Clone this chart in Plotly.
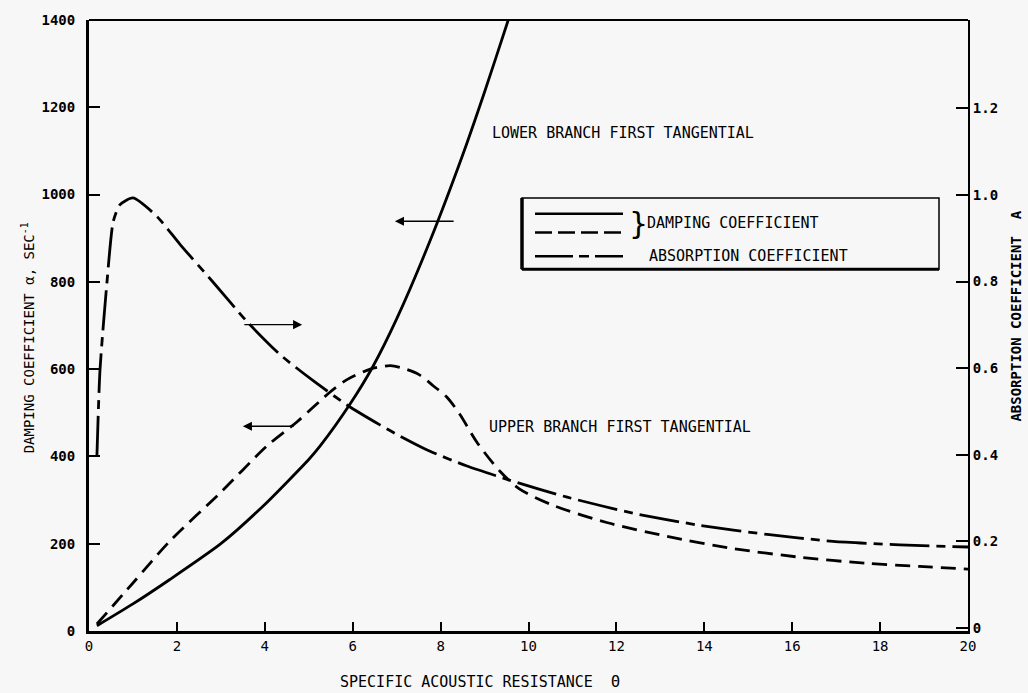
import plotly.graph_objects as go

# ---- data ----
theta_lower = [0.18, 1.0, 1.84, 3.0, 4.0, 5.0, 5.26, 5.94, 6.46, 7.0, 7.76, 8.5, 9.0, 9.53, 9.7]
alpha_lower = [12, 62, 118, 200, 290, 393, 424, 520, 606, 715, 894, 1090, 1235, 1397, 1450]

theta_upper = [0.18, 1.0, 1.84, 3.0, 4.05, 4.73, 5.48, 5.87, 6.4, 6.85, 7.08, 7.5, 7.83, 8.15, 8.44,
               8.83, 9.35, 9.8, 10.56, 11.8, 13.15, 14.65, 16.18, 17.7, 18.9, 20.0]
alpha_upper = [16, 110, 206, 318, 424, 479, 547, 576, 600, 608, 604, 588, 562, 535, 496,
               432, 366, 325, 288, 248, 217, 189, 169, 155, 148, 142]

theta_abs = [0.18, 0.25, 0.41, 0.55, 0.7, 1.0, 1.55, 2.07, 2.82, 3.6, 4.35, 5.1, 5.87, 6.62,
             7.08, 7.76, 8.6, 9.58, 10.88, 12.38, 13.9, 15.43, 16.93, 18.45, 20.0]
absorption = [0.397, 0.596, 0.80, 0.938, 0.977, 0.993, 0.95, 0.886, 0.799, 0.707, 0.631, 0.571,
              0.515, 0.469, 0.443, 0.408, 0.374, 0.341, 0.302, 0.265, 0.237, 0.216, 0.200, 0.192, 0.187]

x_ticks = [0, 2, 4, 6, 8, 10, 12, 14, 16, 18, 20]
y_ticks = [0, 200, 400, 600, 800, 1000, 1200, 1400]
y2_ticks = [0, 0.2, 0.4, 0.6, 0.8, 1.0, 1.2]
y2_ticktext = ["0", "0.2", "0.4", "0.6", "0.8", "1.0", "1.2"]

FONT = "DejaVu Sans Mono"
BG = "#f7f7f7"
W, H = 1028, 693
L, R, T, B = 89, 60, 13, 62
PW, PH = W - L - R, H - T - B


def px(xp):
    return (xp - L) / PW


def py(yp):
    return (H - B - yp) / PH


fig = go.Figure()
fig.add_trace(go.Scatter(x=theta_lower, y=alpha_lower, mode="lines",
                         line=dict(color="black", width=2.8, shape="spline", smoothing=0.6),
                         showlegend=False, hoverinfo="skip"))
fig.add_trace(go.Scatter(x=theta_upper, y=alpha_upper, mode="lines",
                         line=dict(color="black", width=2.8, dash="15px,8px", shape="spline", smoothing=0.8),
                         showlegend=False, hoverinfo="skip"))
fig.add_trace(go.Scatter(x=theta_abs, y=absorption, mode="lines", yaxis="y2",
                         line=dict(color="black", width=2.8, dash="40px,7px,9px,7px", shape="spline", smoothing=0.6),
                         showlegend=False, hoverinfo="skip"))

annotations = []
# axis titles
annotations.append(dict(text="DAMPING COEFFICIENT α, SEC<sup>-1</sup>", x=px(28), y=py(335),
                        xref="paper", yref="paper", showarrow=False, textangle=-90,
                        xanchor="center", yanchor="middle",
                        font=dict(family=FONT, size=14, color="black")))
annotations.append(dict(text="<b>ABSORPTION COEFFICIENT  A</b>", x=px(1016), y=py(312),
                        xref="paper", yref="paper", showarrow=False, textangle=-90,
                        xanchor="center", yanchor="middle",
                        font=dict(family=FONT, size=14, color="black")))
annotations.append(dict(text="SPECIFIC ACOUSTIC RESISTANCE  Θ", x=px(480), y=py(683),
                        xref="paper", yref="paper", showarrow=False,
                        xanchor="center", yanchor="middle",
                        font=dict(family=FONT, size=15, color="black")))
# curve labels
annotations.append(dict(text="LOWER BRANCH FIRST TANGENTIAL", x=9.12, y=1140, xref="x", yref="y",
                        xanchor="left", yanchor="middle", showarrow=False,
                        font=dict(family=FONT, size=15, color="black")))
annotations.append(dict(text="UPPER BRANCH FIRST TANGENTIAL", x=9.06, y=468, xref="x", yref="y",
                        xanchor="left", yanchor="middle", showarrow=False,
                        font=dict(family=FONT, size=15, color="black")))
# arrows (head at x, tail at ax)
arrows = [(6.96, 8.33, 939), (4.85, 3.5, 702), (3.5, 4.69, 469)]
for hx, tx, yy in arrows:
    annotations.append(dict(x=hx, y=yy, ax=tx, ay=yy, xref="x", yref="y", axref="x", ayref="y",
                            text="", showarrow=True, arrowhead=2, arrowsize=1.3, arrowwidth=1.4,
                            arrowcolor="black", standoff=0, startstandoff=0))
# legend text
annotations.append(dict(text="}", x=px(627), y=py(219), xref="paper", yref="paper",
                        xanchor="left", yanchor="middle", showarrow=False,
                        font=dict(family="DejaVu Sans", size=30, color="black")))
annotations.append(dict(text="DAMPING COEFFICIENT", x=px(645), y=py(218), xref="paper", yref="paper",
                        xanchor="left", yanchor="middle", showarrow=False,
                        font=dict(family=FONT, size=15, color="black")))
annotations.append(dict(text="ABSORPTION COEFFICIENT", x=px(647), y=py(252), xref="paper", yref="paper",
                        xanchor="left", yanchor="middle", showarrow=False,
                        font=dict(family=FONT, size=15, color="black")))

shapes = []
# top frame line
shapes.append(dict(type="line", xref="paper", yref="paper", x0=0, x1=1, y0=1, y1=1,
                   line=dict(color="black", width=2)))
# legend box
bx0, bx1, by0, by1 = px(522), px(939), py(265), py(193)
shapes.append(dict(type="rect", xref="paper", yref="paper", x0=bx0, x1=bx1, y0=by0, y1=by1,
                   line=dict(color="black", width=1.5), fillcolor=BG, layer="below"))
shapes.append(dict(type="line", xref="paper", yref="paper", x0=bx0, x1=bx0, y0=by0, y1=by1,
                   line=dict(color="black", width=3.5)))
shapes.append(dict(type="line", xref="paper", yref="paper", x0=bx0, x1=bx1, y0=by0, y1=by0,
                   line=dict(color="black", width=3)))
# legend samples
lx0, lx1 = px(535), px(623)
shapes.append(dict(type="line", xref="paper", yref="paper", x0=lx0, x1=lx1, y0=py(209), y1=py(209),
                   line=dict(color="black", width=2.5)))
shapes.append(dict(type="line", xref="paper", yref="paper", x0=lx0, x1=lx1, y0=py(228), y1=py(228),
                   line=dict(color="black", width=2.5, dash="17px,6px")))
shapes.append(dict(type="line", xref="paper", yref="paper", x0=lx0, x1=lx1, y0=py(252), y1=py(252),
                   line=dict(color="black", width=2.5, dash="38px,6px,10px,6px")))

fig.update_layout(
    width=W, height=H,
    margin=dict(l=L, r=R, t=T, b=B),
    paper_bgcolor=BG, plot_bgcolor=BG,
    showlegend=False,
    xaxis=dict(range=[0, 20], tickvals=x_ticks, ticks="inside", ticklen=9, tickwidth=1.5,
               tickcolor="black", showline=True, linewidth=3, linecolor="black", showgrid=False,
               zeroline=False, tickfont=dict(family=FONT, size=14, color="black")),
    yaxis=dict(range=[0, 1400], tickvals=y_ticks, ticks="inside", ticklen=11, tickwidth=1.5,
               tickcolor="black", showline=True, linewidth=3, linecolor="black", showgrid=False,
               zeroline=False, ticklabelstandoff=8,
               tickfont=dict(family=FONT, size=14, color="black", weight="bold")),
    yaxis2=dict(range=[-0.007, 1.404], overlaying="y", side="right", tickvals=y2_ticks,
                ticktext=y2_ticktext, ticks="inside", ticklen=12, tickwidth=2, tickcolor="black",
                showline=True, linewidth=2, linecolor="black", showgrid=False, zeroline=False,
                ticklabelstandoff=0,
                tickfont=dict(family=FONT, size=14, color="black", weight="bold")),
    annotations=annotations,
    shapes=shapes,
)

fig.write_html("out.html", config={"displayModeBar": False},
               post_script="document.body.style.margin='0';document.body.style.background='%s';" % BG)
